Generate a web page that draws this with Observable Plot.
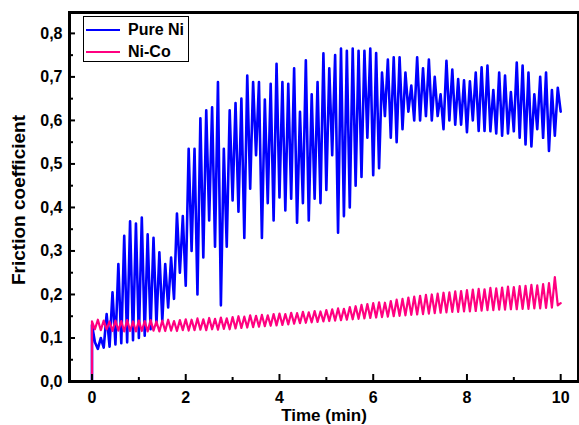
<!DOCTYPE html>
<html><head><meta charset="utf-8">
<script src="https://cdn.jsdelivr.net/npm/d3@7"></script>
<script src="https://cdn.jsdelivr.net/npm/@observablehq/plot@0.6"></script>
<style>
html,body{margin:0;padding:0;background:#fff;}
#wrap{position:relative;width:579px;height:425px;font-family:"Liberation Sans",Arial,sans-serif;font-weight:bold;}
#legend{position:absolute;left:83px;top:16px;width:104px;height:44px;border:1px solid #000;background:#fff;}
.row{position:absolute;left:0;height:20px;display:flex;align-items:center;}
.sw{width:34px;height:0;border-top:2px solid;margin-left:2px;margin-right:8px;}
.lab{font-size:16px;color:#000;}
</style></head>
<body><div id="wrap"></div>
<script>
// time step between samples (min)
const timeStepMin = 0.0625;
const seriesNames = ["Pure Ni", "Ni-Co"];
const seriesColors = ["#0000ff", "#ff0080"];

// Friction coefficient, Pure Ni (one value per time step, 0 .. 10 min)
const pureNiMu = [
  0.13, 0.09, 0.075, 0.1, 0.078, 0.155, 0.08, 0.205, 0.085, 0.27, 0.088, 0.335, 0.09, 0.368, 0.095, 0.363,
  0.1, 0.377, 0.105, 0.338, 0.12, 0.33, 0.13, 0.297, 0.14, 0.27, 0.17, 0.285, 0.19, 0.386, 0.25, 0.38,
  0.22, 0.535, 0.3, 0.535, 0.2, 0.605, 0.285, 0.623, 0.37, 0.63, 0.31, 0.688, 0.175, 0.535, 0.31, 0.623,
  0.416, 0.64, 0.39, 0.65, 0.33, 0.703, 0.443, 0.688, 0.52, 0.688, 0.33, 0.648, 0.41, 0.684, 0.37, 0.73,
  0.423, 0.688, 0.393, 0.684, 0.42, 0.72, 0.365, 0.62, 0.41, 0.738, 0.37, 0.66, 0.42, 0.688, 0.41, 0.754,
  0.44, 0.72, 0.52, 0.75, 0.342, 0.765, 0.38, 0.76, 0.4, 0.765, 0.45, 0.76, 0.47, 0.76, 0.56, 0.765,
  0.474, 0.755, 0.49, 0.71, 0.61, 0.74, 0.56, 0.745, 0.55, 0.745, 0.58, 0.71, 0.62, 0.68, 0.6, 0.745,
  0.6, 0.72, 0.61, 0.74, 0.6, 0.7, 0.61, 0.66, 0.58, 0.737, 0.6, 0.717, 0.59, 0.695, 0.59, 0.692,
  0.573, 0.69, 0.6, 0.71, 0.576, 0.722, 0.576, 0.726, 0.575, 0.67, 0.57, 0.71, 0.565, 0.703, 0.57, 0.665,
  0.575, 0.733, 0.56, 0.726, 0.545, 0.71, 0.54, 0.66, 0.58, 0.7, 0.56, 0.71, 0.53, 0.67, 0.565, 0.675,
  0.62
];

// Friction coefficient, Ni-Co (one value per time step, 0 .. 10 min)
const niCoMu = [
  0.138, 0.12, 0.142, 0.118, 0.14, 0.12, 0.138, 0.116, 0.14, 0.117, 0.139, 0.115, 0.141, 0.116, 0.138, 0.115,
  0.14, 0.116, 0.139, 0.115, 0.141, 0.117, 0.138, 0.115, 0.14, 0.116, 0.142, 0.117, 0.139, 0.116, 0.141, 0.118,
  0.143, 0.117, 0.142, 0.118, 0.145, 0.119, 0.143, 0.118, 0.146, 0.12, 0.144, 0.119, 0.147, 0.121, 0.145, 0.12,
  0.148, 0.122, 0.15, 0.123, 0.149, 0.124, 0.152, 0.125, 0.151, 0.126, 0.153, 0.127, 0.152, 0.128, 0.155, 0.129,
  0.156, 0.13, 0.155, 0.131, 0.158, 0.133, 0.157, 0.134, 0.16, 0.135, 0.159, 0.136, 0.162, 0.137, 0.161, 0.138,
  0.164, 0.139, 0.166, 0.14, 0.168, 0.141, 0.167, 0.142, 0.171, 0.143, 0.173, 0.144, 0.176, 0.145, 0.178, 0.146,
  0.18, 0.147, 0.182, 0.148, 0.181, 0.149, 0.185, 0.15, 0.188, 0.151, 0.19, 0.152, 0.193, 0.153, 0.195, 0.154,
  0.197, 0.155, 0.199, 0.156, 0.2, 0.157, 0.202, 0.158, 0.204, 0.159, 0.205, 0.16, 0.207, 0.16, 0.208, 0.161,
  0.21, 0.161, 0.211, 0.162, 0.213, 0.163, 0.212, 0.164, 0.215, 0.164, 0.214, 0.165, 0.216, 0.165, 0.218, 0.166,
  0.217, 0.166, 0.219, 0.167, 0.22, 0.167, 0.222, 0.168, 0.221, 0.168, 0.224, 0.169, 0.226, 0.17, 0.24, 0.175,
  0.18
];

// value at the very start of the test (t = 0)
const onsetMu = 0;

const xMajorTicks = [0, 2, 4, 6, 8, 10];
const xMinorTicks = [1, 3, 5, 7, 9];
const yMajorTicks = [0, 0.1, 0.2, 0.3, 0.4, 0.5, 0.6, 0.7, 0.8];
const yMinorTicks = [0.05, 0.15, 0.25, 0.35, 0.45, 0.55, 0.65, 0.75];
const xTitle = "Time (min)";
const yTitle = "Friction coefficient";

function toRows(values) {
  return [{t: 0, mu: onsetMu}, ...values.map((mu, i) => ({t: i * timeStepMin, mu}))];
}
const niRows = toRows(pureNiMu);
const coRows = toRows(niCoMu);

const fmt = d => d.toFixed(1).replace(".", ",");

const chart = Plot.plot({
  width: 579,
  height: 425,
  marginLeft: 69,
  marginRight: 1,
  marginTop: 12,
  marginBottom: 44,
  style: {fontFamily: "'Liberation Sans', Arial, sans-serif", fontWeight: "bold", background: "#fff", color: "#000"},
  x: {domain: [-0.48, 10.38]},
  y: {domain: [0, 0.848]},
  marks: [
    Plot.line(niRows, {x: "t", y: "mu", stroke: seriesColors[0], strokeWidth: 2.6}),
    Plot.line(coRows, {x: "t", y: "mu", stroke: seriesColors[1], strokeWidth: 2.2}),
    Plot.frame({stroke: "#000", strokeWidth: 3}),
    // inward ticks
    Plot.axisY(yMajorTicks, {tickSize: 6, dx: 6, strokeWidth: 2, fill: "none", label: null}),
    Plot.axisY(yMinorTicks, {tickSize: 4, dx: 4, strokeWidth: 2, fill: "none", label: null}),
    Plot.axisX(xMajorTicks, {tickSize: 7, dy: -7, strokeWidth: 2, fill: "none", label: null}),
    Plot.axisX(xMinorTicks, {tickSize: 4, dy: -4, strokeWidth: 2, fill: "none", label: null}),
    // tick labels
    Plot.axisY(yMajorTicks, {tickSize: 0, tickPadding: 7, tickFormat: fmt, fontSize: 16, fill: "#000", label: null}),
    Plot.axisX(xMajorTicks, {tickSize: 0, tickPadding: 10, tickFormat: d => String(d), fontSize: 16, fill: "#000", label: null}),
    // axis titles
    Plot.text([xTitle], {text: d => d, frameAnchor: "bottom", textAnchor: "middle", lineAnchor: "middle", dy: 34, fontSize: 17, fill: "#000"}),
    Plot.text([yTitle], {text: d => d, frameAnchor: "left", textAnchor: "middle", lineAnchor: "middle", dx: -51, dy: 3, rotate: -90, fontSize: 19, fill: "#000"})
  ]
});

const wrap = document.getElementById("wrap");
wrap.appendChild(chart);

const legend = document.createElement("div");
legend.id = "legend";
seriesNames.forEach((name, i) => {
  const row = document.createElement("div");
  row.className = "row";
  row.style.top = (3 + i * 22) + "px";
  const sw = document.createElement("span");
  sw.className = "sw";
  sw.style.borderTopColor = seriesColors[i];
  const lab = document.createElement("span");
  lab.className = "lab";
  lab.textContent = name;
  row.appendChild(sw);
  row.appendChild(lab);
  legend.appendChild(row);
});
wrap.appendChild(legend);
</script>
</body></html>
